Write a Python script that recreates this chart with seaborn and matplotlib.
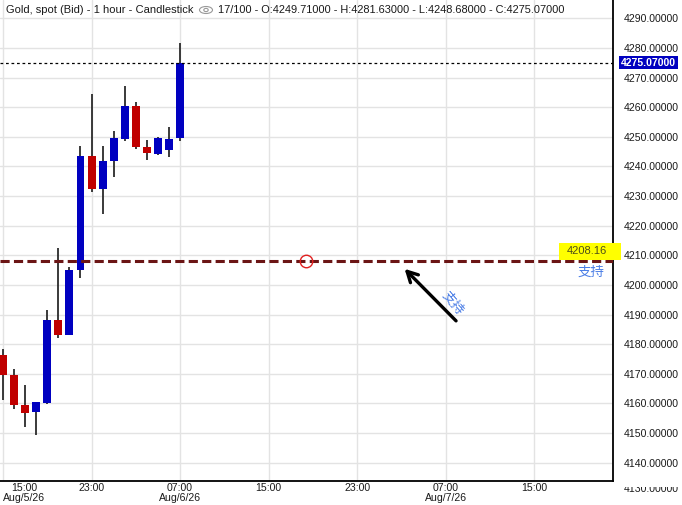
import matplotlib
matplotlib.use('Agg')
import matplotlib.pyplot as plt
import matplotlib.transforms as mtransforms
from matplotlib.patches import Ellipse, Circle, Rectangle
import numpy as np
import seaborn as sns

# Hourly candles, hour 0 = Aug/5/26 15:00
hours = list(range(17))
opens = [4176.4, 4169.6, 4159.4, 4157.0, 4160.1, 4188.0, 4183.0, 4205.1, 4243.4,
         4232.3, 4241.8, 4249.3, 4260.3, 4246.5, 4244.2, 4245.4, 4249.71]
highs = [4178.4, 4171.6, 4166.2, 4160.6, 4191.7, 4212.4, 4206.0, 4246.8, 4264.6,
         4246.8, 4251.9, 4267.2, 4261.8, 4249.0, 4249.8, 4253.3, 4281.63]
lows = [4161.2, 4158.1, 4152.0, 4149.3, 4159.7, 4182.2, 4183.0, 4202.3, 4231.5,
        4224.1, 4236.4, 4248.6, 4245.9, 4242.2, 4244.0, 4243.1, 4248.68]
closes = [4169.6, 4159.4, 4156.7, 4160.4, 4188.0, 4183.0, 4205.0, 4243.4, 4232.3,
          4241.7, 4249.5, 4260.3, 4246.6, 4244.5, 4249.5, 4249.2, 4275.07]

tick_hours = [0, 8, 16, 24, 32, 40, 48]
tick_labels = ['15:00\nAug/5/26', '23:00', '07:00\nAug/6/26', '15:00', '23:00',
               '07:00\nAug/7/26', '15:00']
price_ticks = list(range(4140, 4300, 10))

support_level = 4208.16
last_close = closes[-1]

sns.set_style('white')
plt.rcParams['font.family'] = ['Liberation Sans', 'Noto Sans CJK SC', 'DejaVu Sans']

fig = plt.figure(figsize=(6.82, 5.05), dpi=100)
ax = fig.add_axes([0, 24 / 505, 613 / 682, 481 / 505])

up_col = '#0000C0'
down_col = '#C00000'
o = np.array(opens)
c = np.array(closes)
colors = [up_col if cc >= oo else down_col for oo, cc in zip(o, c)]

# wicks then bodies
ax.vlines(hours, lows, highs, color='#2b2b2b', linewidth=1.3, zorder=3)
ax.bar(hours, np.abs(c - o), bottom=np.minimum(o, c), width=0.72,
       color=colors, linewidth=0, zorder=4)

ax.set_xlim(-0.27, 55.1)
ax.set_ylim(4133.8, 4296.2)

ax.set_xticks(tick_hours)
ax.set_xticklabels(tick_labels, fontsize=7.6, color='#1a1a1a', linespacing=1.02)
ax.set_yticks(price_ticks)
ax.set_yticklabels([f'{p:.5f}' for p in price_ticks], fontsize=7.6, color='#1a1a1a')
ax.yaxis.tick_right()
ax.tick_params(axis='y', length=0, pad=8)
ax.tick_params(axis='x', length=0, pad=1.2)
first = ax.get_xticklabels()[0]
first.set_ha('left')
first.set_multialignment('center')

ax.grid(True, color='#e3e3e3', linewidth=1)
ax.set_axisbelow(True)
for side in ['top', 'left']:
    ax.spines[side].set_visible(False)
for side in ['right', 'bottom']:
    ax.spines[side].set_color('black')
    ax.spines[side].set_linewidth(1.3)

# partly hidden 4130 label under the axis corner
t = fig.text(624 / 682, 1 - 489.5 / 505, '4130.00000', ha='left', va='center',
             fontsize=7.6, color='#1a1a1a')
t.set_clip_box(mtransforms.Bbox([[612, 505 - 492.5], [682, 505 - 487]]))
t.set_clip_on(True)

# last close dotted line and price tag
ax.axhline(last_close, color='black', linewidth=0.9, linestyle=(0, (2.2, 2.2)), zorder=5)
tag_tr = mtransforms.blended_transform_factory(ax.transAxes, ax.transData)
ax.text(1 + 8 / 613, last_close, f'{last_close:.5f}', transform=tag_tr, ha='left',
        va='center', fontsize=7.5, color='white', fontweight='bold',
        bbox=dict(boxstyle='square,pad=0.15', facecolor=up_col, edgecolor='none'),
        clip_on=False)

# support line with yellow value tag
ax.axhline(support_level, color='#6b1515', linewidth=2.2, linestyle=(0, (3.0, 1.4)), zorder=5)
ax.add_patch(Rectangle((559 / 613, support_level + 0.4), 62 / 613, 5.6,
                       transform=tag_tr, facecolor='#ffff00', edgecolor='none',
                       clip_on=False, zorder=6))
ax.text(587 / 613, support_level + 3.3, f'{support_level:.2f}', transform=tag_tr,
        ha='center', va='center', fontsize=8, color='#4d4d1a', clip_on=False, zorder=7)
ax.text(591.5 / 613, support_level - 3.9, '支持', transform=tag_tr, ha='center',
        va='center', fontsize=9.7, color='#4a7de6', zorder=6)

# anchor circle
ax.plot([27.4], [support_level], marker='o', markersize=9, markerfacecolor='none',
        markeredgecolor='#e02020', markeredgewidth=1, zorder=6)

# arrow with label
ax.annotate('', xy=(36.1, 4206.1), xytext=(41.1, 4187.2),
            arrowprops=dict(arrowstyle='->,head_length=0.75,head_width=0.4',
                            color='black', lw=2.4), zorder=6)
ax.text(40.6, 4193.6, '支持', rotation=-50, ha='center', va='center',
        fontsize=9.5, color='#4a7de6', zorder=6)

# header
fig.text(6 / 682, 1 - 10 / 505, 'Gold, spot (Bid) - 1 hour - Candlestick',
         ha='left', va='center', fontsize=8.0, color='#1a1a1a')
fig.text(218 / 682, 1 - 10 / 505,
         '17/100 - O:4249.71000 - H:4281.63000 - L:4248.68000 - C:4275.07000',
         ha='left', va='center', fontsize=7.9, color='#1a1a1a')
fig.patches.append(Ellipse((206 / 682, 1 - 10 / 505), 13 / 682, 7 / 505,
                           transform=fig.transFigure, facecolor='none',
                           edgecolor='#999999', linewidth=0.8))
fig.patches.append(Circle((206 / 682, 1 - 10 / 505), 2.2 / 682,
                          transform=fig.transFigure, facecolor='none',
                          edgecolor='#999999', linewidth=0.8))

fig.savefig('out.png', dpi=100)
